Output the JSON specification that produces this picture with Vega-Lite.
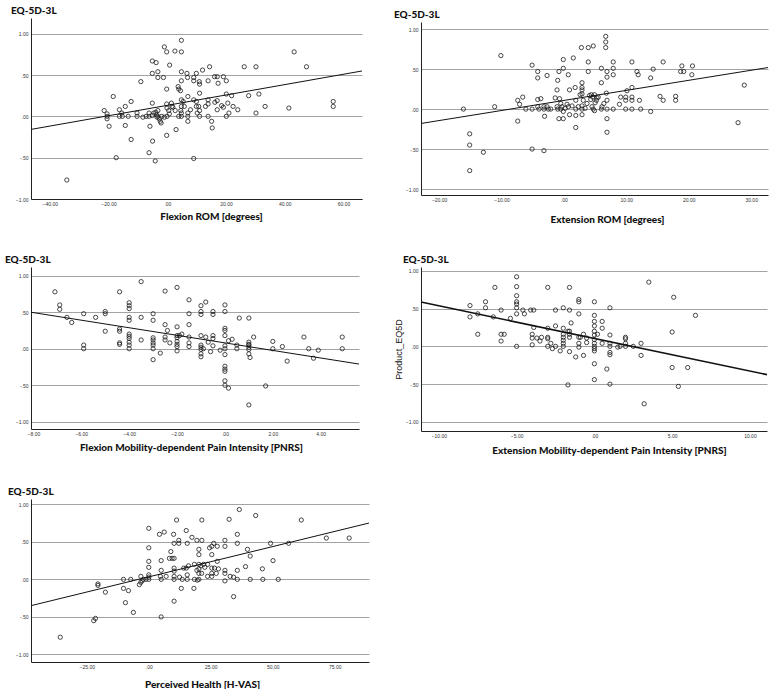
{
  "$schema": "https://vega.github.io/schema/vega-lite/v6.json",
  "padding": {"left": 5, "top": 6, "right": 0, "bottom": 0},
  "background": "white",
  "config": {
    "view": {"stroke": null},
    "font": "Liberation Sans",
    "axis": {
      "domainColor": "#222222",
      "domainWidth": 1,
      "ticks": false,
      "labelFont": "Liberation Sans",
      "labelFontSize": 5,
      "labelColor": "#333333",
      "labelPadding": 3,
      "titleFont": "Lato",
      "titleFontSize": 10,
      "titleFontWeight": 900,
      "titleColor": "#111111",
      "gridColor": "#a3a3a3",
      "gridWidth": 1,
      "labelExpr": "abs(datum.value) < 1 ? (datum.value < 0 ? '-' : '') + slice(format(abs(datum.value), '.2f'), 1) : format(datum.value, '.2f')"
    },
    "axisX": {"grid": false, "labelPadding": 2},
    "axisY": {"grid": true},
    "title": {
      "anchor": "start",
      "frame": "group",
      "font": "Lato",
      "fontSize": 10,
      "fontWeight": 900,
      "color": "#111111",
      "offset": 2
    },
    "point": {"shape": "circle", "filled": false, "size": 18, "strokeWidth": 0.8, "color": "#1a1a1a", "opacity": 1},
    "line": {"color": "#111111", "strokeWidth": 1}
  },
  "datasets": {
    "p1": [{"x":-34.2,"y":-0.77},{"x":-21.5,"y":0.07},{"x":-20.5,"y":0.03},{"x":-20.5,"y":0},{"x":-20.5,"y":-0.03},{"x":-19.8,"y":-0.12},{"x":-18.4,"y":0.24},{"x":-17.4,"y":-0.5},{"x":-16.3,"y":0.08},{"x":-16.3,"y":0},{"x":-15.5,"y":0.04},{"x":-15.3,"y":0},{"x":-14.3,"y":0.12},{"x":-14.3,"y":-0.11},{"x":-13.3,"y":0},{"x":-12.3,"y":0.18},{"x":-12.3,"y":-0.28},{"x":-10.3,"y":0.04},{"x":-10.3,"y":0},{"x":-9,"y":0.42},{"x":-8.3,"y":-0.01},{"x":-7.2,"y":0},{"x":-6.2,"y":0.04},{"x":-6.2,"y":0},{"x":-6.2,"y":-0.44},{"x":-5.9,"y":-0.12},{"x":-5.1,"y":0.67},{"x":-5.1,"y":0.52},{"x":-5.1,"y":0.16},{"x":-5,"y":-0.3},{"x":-5.1,"y":0.01},{"x":-4.6,"y":0.04},{"x":-4.1,"y":-0.54},{"x":-3.9,"y":0.05},{"x":-3.8,"y":0.65},{"x":-3.7,"y":0.02},{"x":-3.5,"y":-0.01},{"x":-3.2,"y":0.54},{"x":-3.2,"y":0.47},{"x":-3.2,"y":0.07},{"x":-3.2,"y":0},{"x":-2.7,"y":-0.03},{"x":-2.4,"y":-0.06},{"x":-2.1,"y":-0.08},{"x":-1.9,"y":0},{"x":-1.3,"y":0.47},{"x":-1,"y":0.84},{"x":-1,"y":-0.01},{"x":-0.2,"y":0.78},{"x":-0.2,"y":0.33},{"x":-0.2,"y":0.15},{"x":-0.1,"y":0.1},{"x":-0.1,"y":0},{"x":-0.2,"y":-0.23},{"x":0.5,"y":0.07},{"x":0.7,"y":0.03},{"x":0.8,"y":0.62},{"x":1.4,"y":0.16},{"x":1.6,"y":0.12},{"x":1.9,"y":0.11},{"x":2.6,"y":0.79},{"x":2.7,"y":0.07},{"x":3,"y":-0.16},{"x":3.7,"y":0.36},{"x":3.9,"y":0.33},{"x":3.9,"y":0},{"x":4.5,"y":0.31},{"x":4.6,"y":0.07},{"x":4.8,"y":0.92},{"x":4.8,"y":0.78},{"x":4.8,"y":0.54},{"x":4.8,"y":0.43},{"x":4.8,"y":0.2},{"x":4.8,"y":0.12},{"x":4.8,"y":0.04},{"x":4.8,"y":0},{"x":5.4,"y":0.18},{"x":5.8,"y":0.12},{"x":6.7,"y":0.52},{"x":6.9,"y":0.47},{"x":7,"y":0.24},{"x":7,"y":0.04},{"x":7,"y":0},{"x":7,"y":-0.06},{"x":7.9,"y":0.08},{"x":9,"y":0.47},{"x":9,"y":0.43},{"x":9,"y":0.2},{"x":9,"y":-0.51},{"x":9.9,"y":0.52},{"x":9.9,"y":0.18},{"x":9.9,"y":0.12},{"x":10.2,"y":0.04},{"x":10.7,"y":0.12},{"x":10.9,"y":0.42},{"x":11,"y":0.39},{"x":11,"y":0.28},{"x":11,"y":0.07},{"x":11,"y":0},{"x":12,"y":0.56},{"x":13,"y":0.12},{"x":13.9,"y":0.43},{"x":13.9,"y":0.2},{"x":13.9,"y":0.15},{"x":13.9,"y":0},{"x":14.4,"y":0.6},{"x":15.1,"y":-0.06},{"x":15.3,"y":-0.14},{"x":16.1,"y":0.48},{"x":16.2,"y":0.17},{"x":17,"y":0.48},{"x":17,"y":0.08},{"x":17.3,"y":0.4},{"x":17,"y":0.19},{"x":18.5,"y":0.13},{"x":19.1,"y":0.48},{"x":19.1,"y":0.11},{"x":20.1,"y":0.43},{"x":20.1,"y":0.27},{"x":20.1,"y":0},{"x":20.6,"y":0.16},{"x":21,"y":0.04},{"x":21.9,"y":0.25},{"x":22.4,"y":0.12},{"x":24,"y":0.08},{"x":26.2,"y":0.6},{"x":27.7,"y":0.25},{"x":30.2,"y":0.6},{"x":30.2,"y":0.04},{"x":31.2,"y":0.27},{"x":33.3,"y":0.12},{"x":41.4,"y":0.1},{"x":43.2,"y":0.78},{"x":47.4,"y":0.6},{"x":56.5,"y":0.18},{"x":56.5,"y":0.12}],
    "p2": [{"x":-16.1,"y":0},{"x":-15.1,"y":-0.31},{"x":-15.1,"y":-0.45},{"x":-15.1,"y":-0.77},{"x":-12.9,"y":-0.54},{"x":-11.1,"y":0.03},{"x":-10.1,"y":0.67},{"x":-7.4,"y":0.11},{"x":-7.4,"y":-0.15},{"x":-7.1,"y":0.06},{"x":-6.6,"y":0.15},{"x":-6.1,"y":0},{"x":-5.1,"y":0.55},{"x":-5.1,"y":0},{"x":-5.1,"y":-0.5},{"x":-4.2,"y":0.47},{"x":-4.2,"y":0.39},{"x":-4.2,"y":0.12},{"x":-4.2,"y":0.03},{"x":-4,"y":0},{"x":-3.7,"y":0.13},{"x":-3.2,"y":0.03},{"x":-3.2,"y":0},{"x":-3.1,"y":-0.09},{"x":-3.2,"y":-0.52},{"x":-2.7,"y":0.42},{"x":-2.7,"y":0.03},{"x":-2.5,"y":0},{"x":-2.1,"y":0},{"x":-1.4,"y":0.14},{"x":-1.1,"y":0.24},{"x":-1,"y":0.36},{"x":-1.1,"y":0.03},{"x":-1,"y":0},{"x":-0.8,"y":0.47},{"x":-0.8,"y":-0.12},{"x":-0.7,"y":0.13},{"x":-0.5,"y":0.07},{"x":-0.5,"y":0},{"x":-0.3,"y":0.03},{"x":-0.1,"y":-0.03},{"x":-0.1,"y":0.51},{"x":-0.1,"y":0.62},{"x":-0.1,"y":-0.12},{"x":0.2,"y":0.01},{"x":0.5,"y":0.06},{"x":0.7,"y":0.43},{"x":0.7,"y":0.03},{"x":0.9,"y":0.24},{"x":0.9,"y":-0.07},{"x":1.3,"y":0.04},{"x":1.5,"y":0.64},{"x":1.8,"y":0.27},{"x":1.9,"y":0.11},{"x":1.9,"y":0},{"x":1.9,"y":-0.08},{"x":1.9,"y":-0.23},{"x":2.3,"y":0.03},{"x":2.6,"y":0.18},{"x":2.8,"y":0.77},{"x":2.9,"y":0.33},{"x":2.9,"y":0.27},{"x":2.9,"y":0.24},{"x":2.9,"y":0.19},{"x":2.9,"y":0.04},{"x":2.9,"y":0},{"x":2.9,"y":-0.07},{"x":3.1,"y":0.11},{"x":3.4,"y":0.01},{"x":3.7,"y":0.07},{"x":3.9,"y":0.77},{"x":3.9,"y":0.59},{"x":3.9,"y":0.47},{"x":4.1,"y":0.17},{"x":4.3,"y":0.12},{"x":4.4,"y":0.18},{"x":4.5,"y":0.03},{"x":4.6,"y":0.15},{"x":4.7,"y":0.79},{"x":4.7,"y":0},{"x":4.9,"y":0.18},{"x":4.9,"y":-0.02},{"x":5,"y":0.08},{"x":5.2,"y":0.11},{"x":5.3,"y":0.14},{"x":5.5,"y":0.15},{"x":6,"y":0.51},{"x":6,"y":0.33},{"x":6,"y":0},{"x":6.1,"y":0.03},{"x":6.4,"y":0.07},{"x":6.7,"y":0.91},{"x":6.7,"y":0.84},{"x":6.7,"y":0.77},{"x":6.8,"y":0.2},{"x":6.9,"y":0.47},{"x":6.9,"y":0.4},{"x":6.9,"y":0.11},{"x":6.9,"y":0},{"x":6.9,"y":-0.12},{"x":6.9,"y":-0.29},{"x":7.9,"y":0.59},{"x":7.9,"y":0.51},{"x":7.9,"y":0.43},{"x":7.9,"y":0},{"x":8.9,"y":0.06},{"x":9.1,"y":0.15},{"x":9.9,"y":0.15},{"x":9.9,"y":0.11},{"x":9.9,"y":0},{"x":10.1,"y":0.23},{"x":10.9,"y":0.59},{"x":10.9,"y":0.27},{"x":10.9,"y":0.15},{"x":10.9,"y":0.11},{"x":10.9,"y":0},{"x":11.7,"y":0.47},{"x":11.9,"y":0.43},{"x":12.1,"y":0.11},{"x":12.3,"y":0},{"x":13.9,"y":0.39},{"x":13.9,"y":-0.03},{"x":14.3,"y":0.5},{"x":15.4,"y":0.16},{"x":15.9,"y":0.11},{"x":15.9,"y":0.59},{"x":17.9,"y":0.16},{"x":17.9,"y":0.11},{"x":18.7,"y":0.47},{"x":18.9,"y":0.54},{"x":19.2,"y":0.47},{"x":20.5,"y":0.43},{"x":20.6,"y":0.54},{"x":27.9,"y":-0.17},{"x":28.9,"y":0.3}],
    "p3": [{"x":-7.1,"y":0.78},{"x":-6.9,"y":0.6},{"x":-6.9,"y":0.54},{"x":-6.6,"y":0.43},{"x":-6.4,"y":0.36},{"x":-5.9,"y":0.48},{"x":-5.9,"y":0.05},{"x":-5.9,"y":0},{"x":-5.4,"y":0.43},{"x":-5,"y":0.51},{"x":-5,"y":0.48},{"x":-5,"y":0.24},{"x":-4.4,"y":0.78},{"x":-4.4,"y":0.27},{"x":-4.4,"y":0.24},{"x":-4.4,"y":0.08},{"x":-4.4,"y":0.06},{"x":-4,"y":0.63},{"x":-4,"y":0.59},{"x":-4,"y":0.55},{"x":-4,"y":0.43},{"x":-4,"y":0.39},{"x":-4,"y":0.2},{"x":-4,"y":0.17},{"x":-4,"y":0.14},{"x":-4,"y":0.09},{"x":-4,"y":0.05},{"x":-4,"y":0},{"x":-3.5,"y":0.92},{"x":-3.5,"y":0.43},{"x":-3.5,"y":0.12},{"x":-3,"y":0.48},{"x":-3,"y":0.39},{"x":-3,"y":0.15},{"x":-3,"y":0.12},{"x":-3,"y":0.08},{"x":-3,"y":0.05},{"x":-3,"y":0},{"x":-3,"y":-0.15},{"x":-2.7,"y":-0.06},{"x":-2.5,"y":0.79},{"x":-2.5,"y":0.33},{"x":-2.5,"y":0.16},{"x":-2.5,"y":0.12},{"x":-2.4,"y":0.25},{"x":-2.3,"y":0.08},{"x":-2,"y":0.84},{"x":-2,"y":0.3},{"x":-2,"y":0.18},{"x":-2,"y":0.15},{"x":-2,"y":0.1},{"x":-2,"y":0.06},{"x":-2,"y":0.03},{"x":-2,"y":-0.03},{"x":-1.9,"y":0.18},{"x":-1.8,"y":0.2},{"x":-1.5,"y":0.67},{"x":-1.5,"y":0.48},{"x":-1.5,"y":0.33},{"x":-1.5,"y":0.16},{"x":-1.5,"y":0.08},{"x":-1.5,"y":0.03},{"x":-1,"y":0.59},{"x":-1,"y":0.51},{"x":-1,"y":0.47},{"x":-1,"y":0.18},{"x":-1,"y":0.05},{"x":-1,"y":0.02},{"x":-1,"y":-0.01},{"x":-1,"y":-0.07},{"x":-1,"y":-0.11},{"x":-0.9,"y":0},{"x":-0.8,"y":0.64},{"x":-0.8,"y":0.16},{"x":-0.7,"y":0.09},{"x":-0.6,"y":-0.04},{"x":-0.5,"y":0.51},{"x":-0.5,"y":0.47},{"x":-0.5,"y":0.18},{"x":-0.5,"y":0.14},{"x":-0.5,"y":0.04},{"x":-0.2,"y":-0.02},{"x":0,"y":0.6},{"x":0,"y":0.51},{"x":0,"y":0.28},{"x":0,"y":0.25},{"x":0,"y":0.18},{"x":0,"y":0.04},{"x":0,"y":0},{"x":0,"y":-0.08},{"x":0,"y":-0.24},{"x":0,"y":-0.28},{"x":0,"y":-0.31},{"x":0,"y":-0.44},{"x":0,"y":-0.5},{"x":0.15,"y":-0.54},{"x":0.15,"y":0.11},{"x":0.3,"y":0.13},{"x":0.5,"y":0.05},{"x":0.5,"y":0},{"x":0.6,"y":0.42},{"x":1,"y":0.42},{"x":1,"y":0.09},{"x":1,"y":0.06},{"x":1,"y":0.05},{"x":1,"y":0.02},{"x":1,"y":-0.01},{"x":1,"y":-0.07},{"x":1.05,"y":-0.12},{"x":1,"y":-0.77},{"x":1.2,"y":0.16},{"x":1.7,"y":-0.51},{"x":2,"y":0.1},{"x":2,"y":0},{"x":2.4,"y":0.03},{"x":2.6,"y":-0.17},{"x":3.3,"y":0.16},{"x":3.5,"y":0},{"x":3.7,"y":-0.13},{"x":3.9,"y":-0.02},{"x":4.9,"y":0.16},{"x":4.9,"y":0}],
    "p4": [{"x":-8,"y":0.54},{"x":-8,"y":0.39},{"x":-7.5,"y":0.43},{"x":-7.5,"y":0.16},{"x":-7,"y":0.59},{"x":-7,"y":0.51},{"x":-6.4,"y":0.78},{"x":-6.5,"y":0.39},{"x":-6,"y":0.48},{"x":-6,"y":0.16},{"x":-6,"y":0.07},{"x":-5.8,"y":0.16},{"x":-5.4,"y":0.37},{"x":-5,"y":0.92},{"x":-5,"y":0.79},{"x":-5,"y":0.67},{"x":-5,"y":0.59},{"x":-5,"y":0.56},{"x":-5,"y":0.51},{"x":-5,"y":0.43},{"x":-5,"y":0},{"x":-4.6,"y":0.48},{"x":-4.5,"y":0.43},{"x":-4.1,"y":0.48},{"x":-3.9,"y":0.48},{"x":-3.9,"y":0.25},{"x":-4,"y":0.16},{"x":-4,"y":0.11},{"x":-4,"y":0.02},{"x":-3.7,"y":0.11},{"x":-3.5,"y":0.07},{"x":-3.4,"y":0.12},{"x":-3,"y":0.78},{"x":-3,"y":0.24},{"x":-3,"y":0.12},{"x":-3,"y":0.1},{"x":-3,"y":0},{"x":-2.8,"y":0.04},{"x":-2.7,"y":-0.03},{"x":-2.5,"y":0.48},{"x":-2.5,"y":0.27},{"x":-2.5,"y":0},{"x":-2.2,"y":-0.06},{"x":-2,"y":0.51},{"x":-2,"y":0.24},{"x":-2,"y":0.16},{"x":-2,"y":0.12},{"x":-2,"y":0.08},{"x":-2,"y":0.04},{"x":-2,"y":0},{"x":-1.7,"y":0.2},{"x":-1.7,"y":-0.51},{"x":-1.6,"y":0.78},{"x":-1.6,"y":0.48},{"x":-1.5,"y":0.31},{"x":-1.6,"y":0.2},{"x":-1.6,"y":0.16},{"x":-1.6,"y":0.12},{"x":-1.6,"y":-0.07},{"x":-1.2,"y":-0.14},{"x":-1,"y":0.62},{"x":-1,"y":0.59},{"x":-1,"y":0.43},{"x":-1,"y":0.12},{"x":-1,"y":0.04},{"x":-1,"y":-0.01},{"x":-0.9,"y":0.12},{"x":-0.7,"y":0.16},{"x":-0.7,"y":-0.12},{"x":-0.5,"y":0.11},{"x":-0.5,"y":0.05},{"x":0,"y":0.59},{"x":0,"y":0.41},{"x":0,"y":0.33},{"x":0,"y":0.27},{"x":0,"y":0.2},{"x":0,"y":0.15},{"x":0,"y":0.09},{"x":0,"y":0.04},{"x":0,"y":0},{"x":0,"y":-0.03},{"x":0,"y":-0.06},{"x":0,"y":-0.23},{"x":0,"y":-0.44},{"x":0.2,"y":0.16},{"x":0.5,"y":0.33},{"x":0.5,"y":0.24},{"x":0.5,"y":0.04},{"x":0.8,"y":-0.3},{"x":1,"y":0.51},{"x":1,"y":0.15},{"x":1,"y":0.04},{"x":1,"y":0},{"x":1,"y":-0.08},{"x":1,"y":-0.11},{"x":1,"y":-0.5},{"x":1.5,"y":-0.01},{"x":1.65,"y":0},{"x":2,"y":0.12},{"x":2,"y":0.1},{"x":2,"y":0.04},{"x":2,"y":0},{"x":2.5,"y":0},{"x":3,"y":0.04},{"x":3,"y":-0.12},{"x":3.2,"y":-0.76},{"x":3.5,"y":0.85},{"x":5,"y":0.19},{"x":5,"y":-0.28},{"x":5.1,"y":0.65},{"x":5.4,"y":-0.53},{"x":6,"y":-0.28},{"x":6.5,"y":0.41}],
    "p5": [{"x":-35.7,"y":-0.77},{"x":-22.2,"y":-0.55},{"x":-21.5,"y":-0.52},{"x":-20.5,"y":-0.06},{"x":-20.5,"y":-0.08},{"x":-17.5,"y":-0.17},{"x":-10.2,"y":0},{"x":-10.2,"y":-0.12},{"x":-9.4,"y":-0.31},{"x":-8.2,"y":-0.15},{"x":-7.3,"y":0},{"x":-6.2,"y":-0.44},{"x":-3.8,"y":-0.07},{"x":-3.2,"y":0.04},{"x":-3.2,"y":-0.04},{"x":-2.7,"y":-0.02},{"x":-2.2,"y":0},{"x":-1.1,"y":0},{"x":0,"y":0.68},{"x":0,"y":0.42},{"x":0,"y":0.24},{"x":0,"y":0.16},{"x":0,"y":0.06},{"x":0,"y":0.03},{"x":0,"y":0},{"x":4.3,"y":0.6},{"x":4.7,"y":0.04},{"x":5,"y":0.25},{"x":5,"y":0.12},{"x":5,"y":0},{"x":5,"y":-0.5},{"x":6.2,"y":0.63},{"x":7,"y":0.04},{"x":8.3,"y":0.28},{"x":8.9,"y":0.37},{"x":9.4,"y":0.28},{"x":10,"y":0.6},{"x":10.2,"y":0.48},{"x":10.2,"y":0.28},{"x":10.2,"y":0.15},{"x":10.2,"y":0.11},{"x":10.2,"y":0.04},{"x":10.2,"y":0},{"x":10.2,"y":-0.29},{"x":11.2,"y":0.79},{"x":12.1,"y":0.52},{"x":12.1,"y":0.48},{"x":12.4,"y":0.03},{"x":13.1,"y":-0.12},{"x":13.5,"y":0},{"x":14.1,"y":0.15},{"x":15.1,"y":0.15},{"x":15.1,"y":0.65},{"x":15.5,"y":0.48},{"x":15.5,"y":0.06},{"x":15.5,"y":0},{"x":16,"y":0.18},{"x":17.4,"y":0.56},{"x":18.2,"y":-0.12},{"x":18.4,"y":0.2},{"x":18.4,"y":0},{"x":19.4,"y":0.52},{"x":19.4,"y":0.12},{"x":19.6,"y":-0.01},{"x":20.2,"y":0.4},{"x":20.2,"y":0.33},{"x":20.2,"y":0.2},{"x":20.2,"y":0.14},{"x":20.2,"y":0.08},{"x":20.2,"y":0},{"x":21,"y":0.18},{"x":21.3,"y":0.08},{"x":21.4,"y":0.79},{"x":21.4,"y":0.52},{"x":22.1,"y":0.2},{"x":22.6,"y":0.16},{"x":23.7,"y":0.2},{"x":23.7,"y":0.04},{"x":24.5,"y":0.42},{"x":25.4,"y":0.44},{"x":25.4,"y":0.33},{"x":25.4,"y":0.15},{"x":25.4,"y":0.08},{"x":25.4,"y":0.04},{"x":26.2,"y":0.48},{"x":26.5,"y":0.15},{"x":27.2,"y":0.08},{"x":27.6,"y":0.44},{"x":27.6,"y":0.24},{"x":28.1,"y":0.14},{"x":30.7,"y":0.52},{"x":30.7,"y":0.44},{"x":30.7,"y":0.12},{"x":30.7,"y":0.08},{"x":30.7,"y":-0.02},{"x":32.4,"y":0.8},{"x":32.8,"y":0.04},{"x":34.2,"y":0.03},{"x":34.2,"y":-0.23},{"x":35.7,"y":0.6},{"x":35.7,"y":0.48},{"x":35.7,"y":0.12},{"x":35.7,"y":0},{"x":36.5,"y":0.93},{"x":39,"y":0.17},{"x":39.8,"y":0.4},{"x":40.9,"y":0.31},{"x":40.9,"y":0},{"x":43.1,"y":0.85},{"x":45.8,"y":0.14},{"x":46,"y":0},{"x":49.1,"y":0.48},{"x":50.1,"y":0.25},{"x":52.2,"y":0},{"x":56.4,"y":0.48},{"x":61.5,"y":0.79},{"x":71.6,"y":0.55},{"x":80.8,"y":0.55}],
    "l1": [{"x":-46.4,"y":-0.158},{"x":66.3,"y":0.549}],
    "l2": [{"x":-22.9,"y":-0.18},{"x":32.7,"y":0.52}],
    "l3": [{"x":-8.1,"y":0.5},{"x":5.6,"y":-0.21}],
    "l4": [{"x":-11.15,"y":0.586},{"x":11.1,"y":-0.374}],
    "l5": [{"x":-47.5,"y":-0.35},{"x":88.8,"y":0.75}]
  },
  "columns": 2,
  "spacing": {"row": 68, "column": 52},
  "bounds": "flush",
  "center": {"row": true, "column": false},
  "concat": [
    {
      "width": 331, "height": 181,
      "title": {"text": "EQ-5D-3L", "dx": -20},
      "encoding": {
        "x": {"field": "x", "type": "quantitative", "scale": {"domain": [-46.4, 66.3], "nice": false, "zero": false}, "axis": {"values": [-40, -20, 0, 20, 40, 60], "title": "Flexion ROM [degrees]", "titlePadding": 5, "titleX": 180}},
        "y": {"field": "y", "type": "quantitative", "scale": {"domain": [-1.0, 1.19], "nice": false, "zero": false}, "axis": {"values": [-1, -0.5, 0, 0.5, 1], "title": null}}
      },
      "layer": [
        {"data": {"name": "p1"}, "mark": {"type": "point"}},
        {"data": {"name": "l1"}, "mark": {"type": "line"}}
      ]
    },
    {
      "width": 347, "height": 173,
      "title": {"text": "EQ-5D-3L", "dx": -27},
      "encoding": {
        "x": {"field": "x", "type": "quantitative", "scale": {"domain": [-22.9, 32.7], "nice": false, "zero": false}, "axis": {"values": [-20, -10, 0, 10, 20, 30], "title": "Extension ROM [degrees]", "titlePadding": 12, "titleX": 186}},
        "y": {"field": "y", "type": "quantitative", "scale": {"domain": [-1.075, 1.09], "nice": false, "zero": false}, "axis": {"values": [-1, -0.5, 0, 0.5, 1], "title": null}}
      },
      "layer": [
        {"data": {"name": "p2"}, "mark": {"type": "point"}},
        {"data": {"name": "l2"}, "mark": {"type": "line"}}
      ]
    },
    {
      "width": 328, "height": 162,
      "title": {"text": "EQ-5D-3L", "dx": -26},
      "encoding": {
        "x": {"field": "x", "type": "quantitative", "scale": {"domain": [-8.1, 5.6], "nice": false, "zero": false}, "axis": {"values": [-8, -6, -4, -2, 0, 2, 4], "title": "Flexion Mobility-dependent Pain Intensity [PNRS]", "titlePadding": 6, "titleX": 160}},
        "y": {"field": "y", "type": "quantitative", "scale": {"domain": [-1.1, 1.12], "nice": false, "zero": false}, "axis": {"values": [-1, -0.5, 0, 0.5, 1], "title": null}}
      },
      "layer": [
        {"data": {"name": "p3"}, "mark": {"type": "point"}},
        {"data": {"name": "l3"}, "mark": {"type": "line"}}
      ]
    },
    {
      "width": 346, "height": 164,
      "title": {"text": "EQ-5D-3L", "dx": -18},
      "encoding": {
        "x": {"field": "x", "type": "quantitative", "scale": {"domain": [-11.15, 11.1], "nice": false, "zero": false}, "axis": {"values": [-10, -5, 0, 5, 10], "title": "Extension Mobility-dependent Pain Intensity [PNRS]", "titlePadding": 7, "titleX": 188}},
        "y": {"field": "y", "type": "quantitative", "scale": {"domain": [-1.12, 1.05], "nice": false, "zero": false}, "axis": {"values": [-1, -0.5, 0, 0.5, 1], "title": "Product_EQ5D", "titleFontWeight": "normal", "titleFontSize": 9, "titleFont": "Liberation Sans", "titlePadding": 2}}
      },
      "layer": [
        {"data": {"name": "p4"}, "mark": {"type": "point"}},
        {"data": {"name": "l4"}, "mark": {"type": "line", "strokeWidth": 1.6}}
      ]
    },
    {
      "width": 338, "height": 163,
      "title": {"text": "EQ-5D-3L", "dx": -23},
      "encoding": {
        "x": {"field": "x", "type": "quantitative", "scale": {"domain": [-47.5, 88.8], "nice": false, "zero": false}, "axis": {"values": [-25, 0, 25, 50, 75], "title": "Perceived Health [H-VAS]", "titlePadding": 10, "titleX": 171}},
        "y": {"field": "y", "type": "quantitative", "scale": {"domain": [-1.1, 1.07], "nice": false, "zero": false}, "axis": {"values": [-1, -0.5, 0, 0.5, 1], "title": null}}
      },
      "layer": [
        {"data": {"name": "p5"}, "mark": {"type": "point"}},
        {"data": {"name": "l5"}, "mark": {"type": "line"}}
      ]
    }
  ]
}
